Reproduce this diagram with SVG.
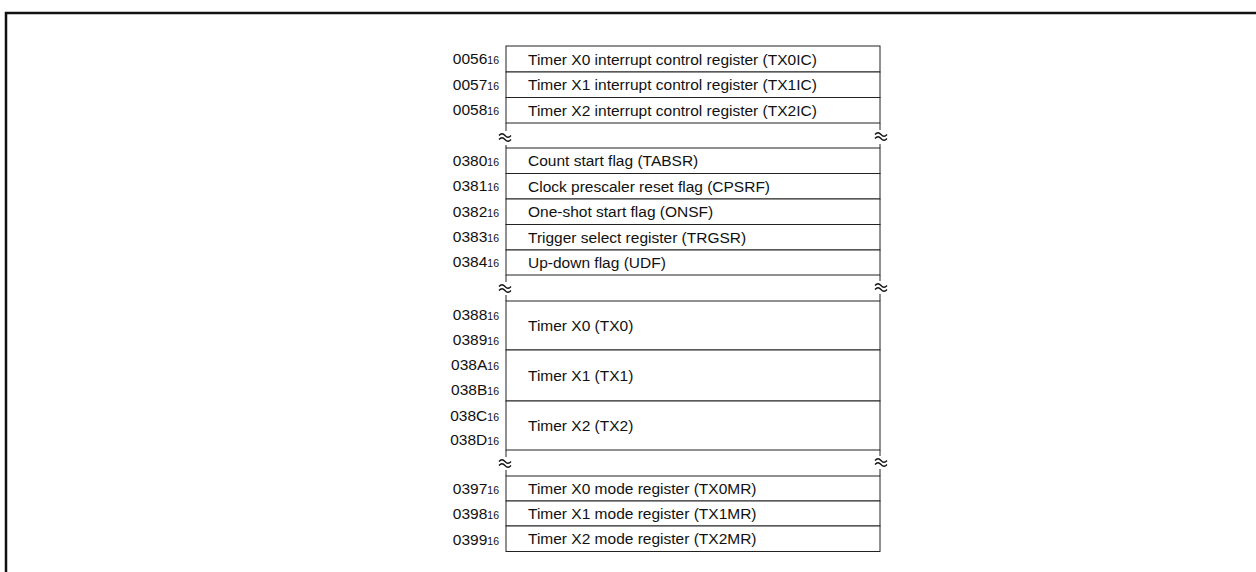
<svg xmlns="http://www.w3.org/2000/svg" width="1256" height="572" viewBox="0 0 1256 572">
<style>
.t{font-family:"Liberation Sans",Arial,sans-serif;font-size:15.5px;fill:#111}
.a{font-family:"Liberation Sans",Arial,sans-serif;font-size:15.5px;fill:#111;text-anchor:end}
.s{font-size:10.5px}
.box{fill:#fff;stroke:#222;stroke-width:1}
.ln{stroke:#222;stroke-width:1;fill:none}
.wv{stroke:#111;stroke-width:1.3;fill:none}
</style>
<defs>
<path id="wave" class="wv" d="M-6,-1.5 q3,-3.5 6,0 t6,0 M-6,2.5 q3,-3.5 6,0 t6,0"/>
</defs>
<rect width="1256" height="572" fill="#fff"/>
<g id="frame">
<path d="M6,572 V13 H1256" fill="none" stroke="#111" stroke-width="2.5"/>
</g>
<g id="connectors">
<path class="ln" d="M506,123 V131 M506,145 V148 M880,123 V130 M880,144 V148"/>
<path class="ln" d="M506,275 V282 M506,295 V301 M880,275 V281 M880,294 V301"/>
<path class="ln" d="M506,450 V457 M506,470 V476 M880,450 V456 M880,469 V476"/>
<use href="#wave" x="505" y="137"/>
<use href="#wave" x="881" y="136"/>
<use href="#wave" x="505" y="288"/>
<use href="#wave" x="881" y="287"/>
<use href="#wave" x="505" y="463"/>
<use href="#wave" x="881" y="462"/>
</g>
<g id="r0056"><rect class="box" x="506" y="46" width="374" height="26"/><text class="a" x="499" y="64">0056<tspan class="s">16</tspan></text><text class="t" x="528" y="65">Timer X0 interrupt control register (TX0IC)</text></g>
<g id="r0057"><rect class="box" x="506" y="72" width="374" height="25.5"/><text class="a" x="499" y="89.5">0057<tspan class="s">16</tspan></text><text class="t" x="528" y="90">Timer X1 interrupt control register (TX1IC)</text></g>
<g id="r0058"><rect class="box" x="506" y="97.5" width="374" height="25.5"/><text class="a" x="499" y="115">0058<tspan class="s">16</tspan></text><text class="t" x="528" y="115.5">Timer X2 interrupt control register (TX2IC)</text></g>
<g id="r0380"><rect class="box" x="506" y="148" width="374" height="25.5"/><text class="a" x="499" y="165.5">0380<tspan class="s">16</tspan></text><text class="t" x="528" y="166">Count start flag (TABSR)</text></g>
<g id="r0381"><rect class="box" x="506" y="173.5" width="374" height="25.5"/><text class="a" x="499" y="191">0381<tspan class="s">16</tspan></text><text class="t" x="528" y="191.5">Clock prescaler reset flag (CPSRF)</text></g>
<g id="r0382"><rect class="box" x="506" y="199" width="374" height="25.5"/><text class="a" x="499" y="216.5">0382<tspan class="s">16</tspan></text><text class="t" x="528" y="217">One-shot start flag (ONSF)</text></g>
<g id="r0383"><rect class="box" x="506" y="224.5" width="374" height="25.5"/><text class="a" x="499" y="242">0383<tspan class="s">16</tspan></text><text class="t" x="528" y="242.5">Trigger select register (TRGSR)</text></g>
<g id="r0384"><rect class="box" x="506" y="250" width="374" height="25"/><text class="a" x="499" y="267">0384<tspan class="s">16</tspan></text><text class="t" x="528" y="267.5">Up-down flag (UDF)</text></g>
<g id="tx0"><rect class="box" x="506" y="301" width="374" height="49"/><text class="a" x="499" y="320">0388<tspan class="s">16</tspan></text><text class="a" x="499" y="344.5">0389<tspan class="s">16</tspan></text><text class="t" x="528" y="331">Timer X0 (TX0)</text></g>
<g id="tx1"><rect class="box" x="506" y="350" width="374" height="51"/><text class="a" x="499" y="370">038A<tspan class="s">16</tspan></text><text class="a" x="499" y="395">038B<tspan class="s">16</tspan></text><text class="t" x="528" y="381">Timer X1 (TX1)</text></g>
<g id="tx2"><rect class="box" x="506" y="401" width="374" height="49"/><text class="a" x="499" y="420.5">038C<tspan class="s">16</tspan></text><text class="a" x="499" y="445">038D<tspan class="s">16</tspan></text><text class="t" x="528" y="431">Timer X2 (TX2)</text></g>
<g id="r0397"><rect class="box" x="506" y="476" width="374" height="25"/><text class="a" x="499" y="494">0397<tspan class="s">16</tspan></text><text class="t" x="528" y="493.5">Timer X0 mode register (TX0MR)</text></g>
<g id="r0398"><rect class="box" x="506" y="501" width="374" height="25"/><text class="a" x="499" y="519">0398<tspan class="s">16</tspan></text><text class="t" x="528" y="518.5">Timer X1 mode register (TX1MR)</text></g>
<g id="r0399"><rect class="box" x="506" y="526" width="374" height="25.5"/><text class="a" x="499" y="544.5">0399<tspan class="s">16</tspan></text><text class="t" x="528" y="544">Timer X2 mode register (TX2MR)</text></g>
</svg>
